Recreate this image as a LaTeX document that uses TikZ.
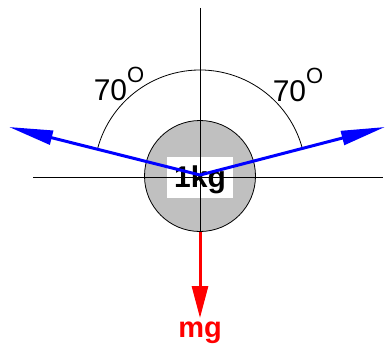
\documentclass[tikz,border=0pt]{standalone}
\usepackage{fontspec}
\setmainfont{Liberation Sans}
\usetikzlibrary{arrows.meta}
\definecolor{massgray}{RGB}{192,192,192}
\newcommand{\degtxt}[1]{#1\raisebox{0.62em}{\fontsize{22}{22}\selectfont O}}

\begin{document}
\begin{tikzpicture}[
  x=1pt, y=-1pt,
  axisline/.style={draw=black, line width=0.8pt},
  ropepull/.style={draw=blue, line width=3pt, -{Triangle[length=44pt,width=14pt]}},
  gravpull/.style={draw=red, line width=3pt, -{Triangle[length=32pt,width=16pt]}},
  anglelbl/.style={font=\fontsize{30}{30}\selectfont, inner sep=0pt}
]
\useasboundingbox (0,0) rectangle (385,350);
\node[circle, draw=black, line width=0.8pt, fill=massgray, minimum size=111pt, inner sep=0pt] (mass) at (200,176) {};
\coordinate (top) at (200,8);
\coordinate (left) at (33,177);
\coordinate (right) at (383,177);
\draw[axisline] (top) -- (mass.south);
\draw[axisline] (left) -- (right);
\node[fill=white, minimum width=66pt, minimum height=41pt, inner sep=0pt] (box) at (200,177.5) {};
\draw[axisline] (box.north) -- (box.south);
\draw[axisline] (box.west) -- (box.east);
\node[font=\bfseries\fontsize{30}{30}\selectfont, inner sep=0pt] (kg) at (200,180) {1kg};
% angle arc
\draw[axisline] (mass.center) ++(-14.7:106) arc[start angle=-14.7, end angle=-165.3, radius=106];
\node[anglelbl] (aleft) at (119,84) {\degtxt{70}};
\node[anglelbl] (aright) at (298,85) {\degtxt{70}};
% forces
\coordinate (apex) at (200,175);
\coordinate (tl) at (9,127);
\coordinate (tr) at (385,127);
\coordinate (down) at (200,318);
\draw[ropepull] (apex) -- (tl);
\draw[ropepull] (apex) -- (tr);
\draw[gravpull] (mass.south) -- (down);
\node[text=red, font=\bfseries\fontsize{29}{29}\selectfont, inner sep=0pt] (mg) at (200,333) {mg};
\end{tikzpicture}
\end{document}
